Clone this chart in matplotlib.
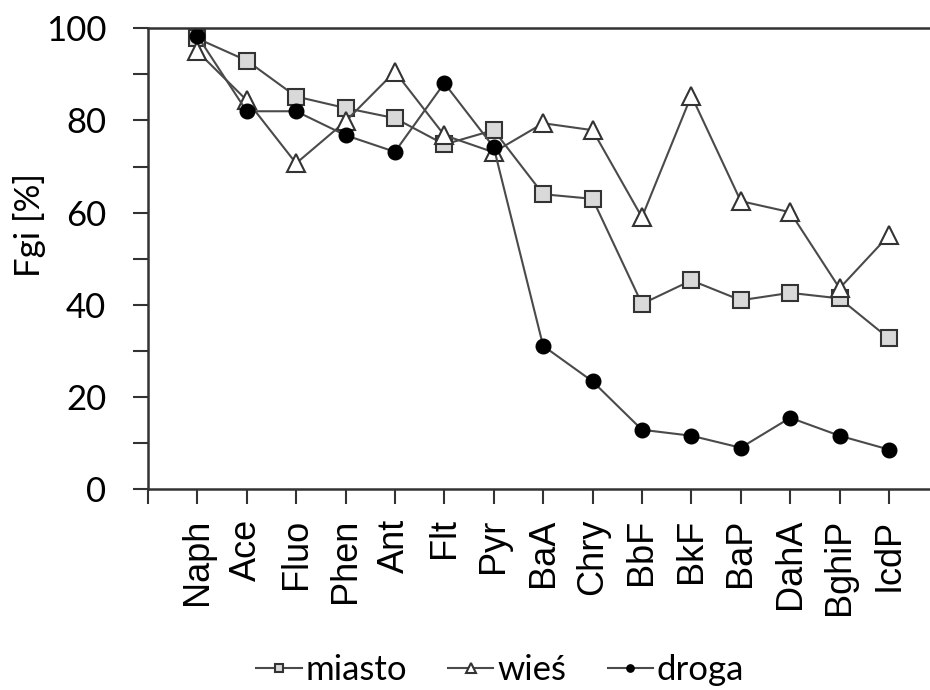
import matplotlib.pyplot as plt
import numpy as np

plt.rcParams["font.family"] = ["Lato", "DejaVu Sans"]

compounds = ["Naph", "Ace", "Fluo", "Phen", "Ant", "Flt", "Pyr", "BaA",
             "Chry", "BbF", "BkF", "BaP", "DahA", "BghiP", "IcdP"]

# Fgi [%] per site
miasto = [97.8, 93.0, 85.2, 82.7, 80.5, 74.8, 77.9, 64.0, 63.0, 40.2, 45.3, 41.0, 42.6, 41.4, 32.7]
wies = [95.0, 84.4, 70.7, 79.8, 90.6, 76.8, 73.1, 79.4, 77.9, 59.0, 85.4, 62.5, 60.1, 43.6, 55.1]
droga = [98.4, 82.0, 82.0, 76.8, 73.2, 88.1, 74.2, 31.1, 23.4, 12.9, 11.6, 9.0, 15.5, 11.6, 8.6]

x = np.arange(len(compounds))
line_col = "#4a4a4a"
edge_col = "#333333"

fig = plt.figure(figsize=(9.3, 6.9), dpi=100)
ax = fig.add_axes([0.159, 0.291, 0.841, 0.668])

ax.plot(x, miasto, color=line_col, lw=1.5, marker="s", ms=12,
        mfc="#d9d9d9", mec=edge_col, mew=1.5, label="miasto")
ax.plot(x, wies, color=line_col, lw=1.5, marker="^", ms=13,
        mfc="white", mec=edge_col, mew=1.5, label="wieś")
ax.plot(x, droga, color=line_col, lw=1.5, marker="o", ms=10.5,
        mfc="black", mec="black", label="droga")

ax.set_xlim(-1, 14.83)
ax.set_ylim(0, 100)
ax.set_yticks(np.arange(0, 101, 20))
ax.set_yticks(np.arange(10, 100, 20), minor=True)
ax.set_xticks(np.arange(-1, 15))
ax.set_xticklabels([""] + compounds, rotation=90, fontsize=26,
                   family=["Liberation Sans", "DejaVu Sans"])
ax.tick_params(axis="y", which="both", direction="out", length=11, width=1.5,
               labelsize=25, pad=19, color=edge_col)
ax.tick_params(axis="x", direction="out", length=11, width=1.5,
               pad=10, color=edge_col)

for side in ["left", "bottom", "top"]:
    ax.spines[side].set_linewidth(1.8)
    ax.spines[side].set_color(edge_col)
ax.spines["right"].set_visible(False)

fig.text(30 / 930, 0.674, "Fgi [%]", rotation=90, fontsize=25,
         ha="center", va="center")

fig.legend(loc="center", bbox_to_anchor=(500 / 930, 0.029), ncol=3, frameon=False,
           fontsize=25, handlelength=1.3, handletextpad=0.1, columnspacing=1.2,
           markerscale=0.5)

fig.savefig("out.png", dpi=100)
